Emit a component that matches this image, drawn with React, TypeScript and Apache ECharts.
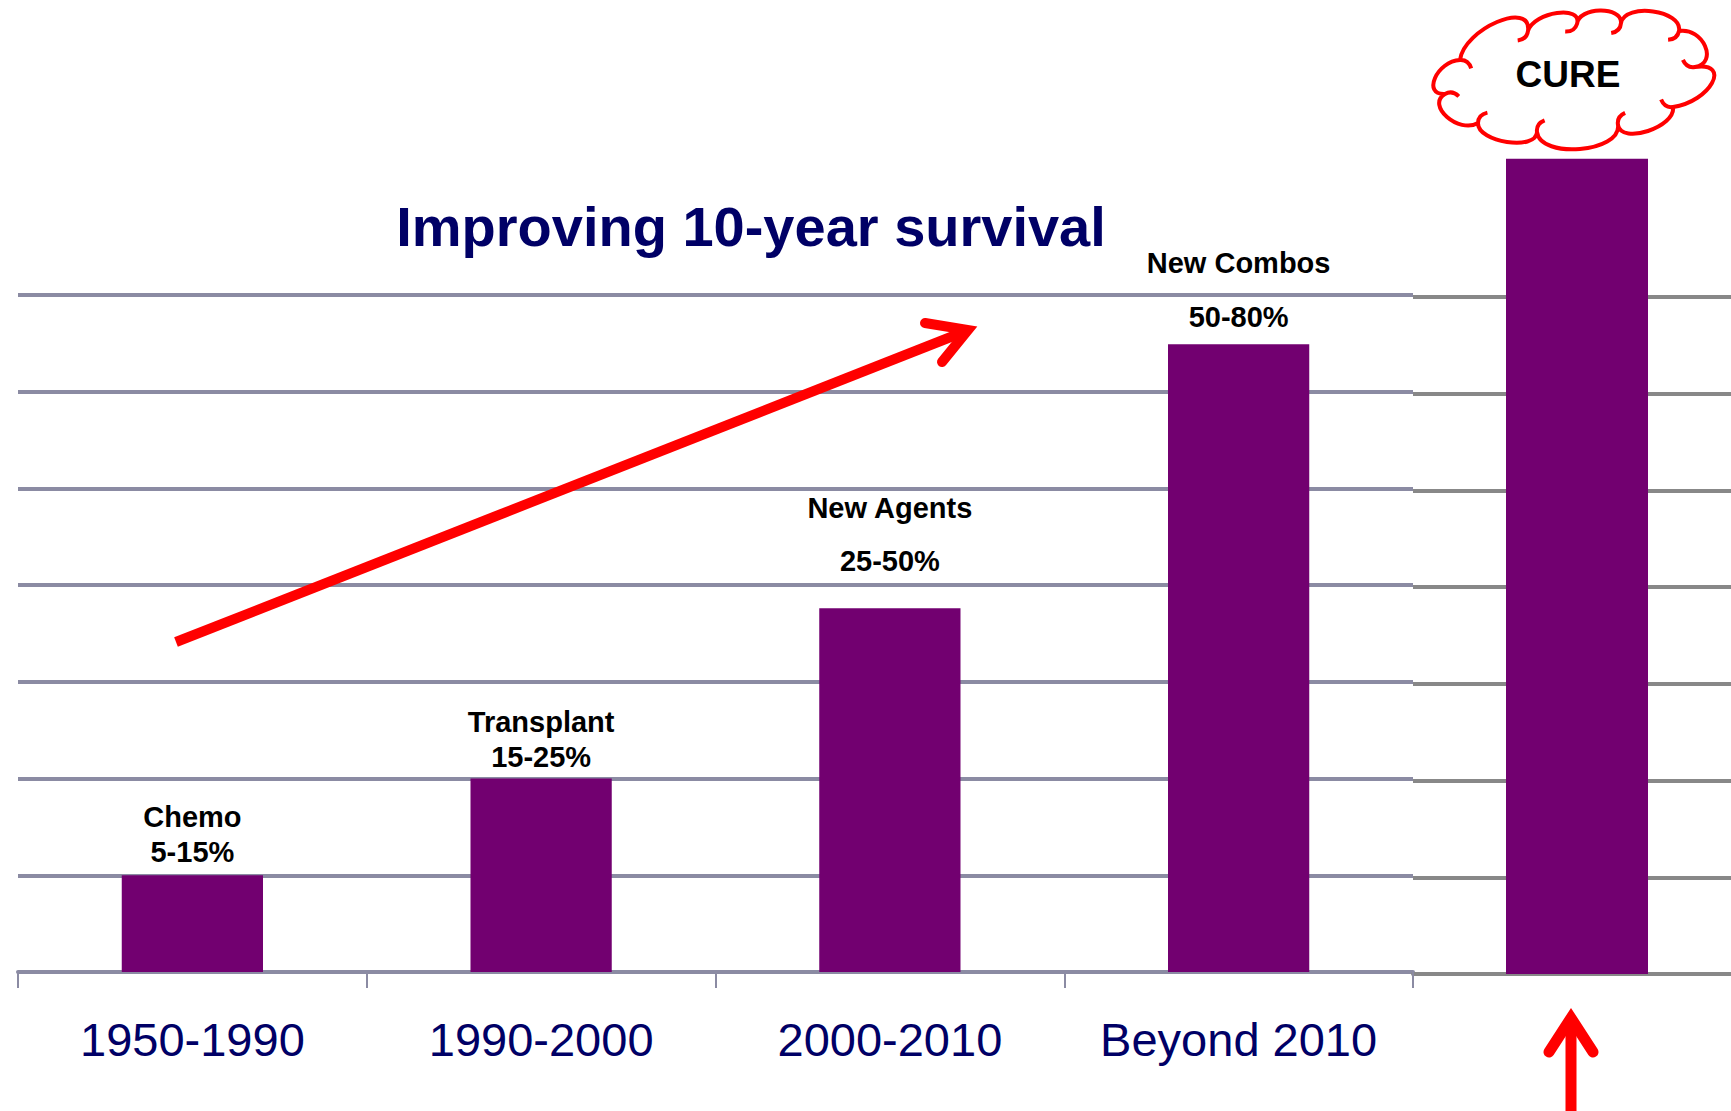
import React, { useEffect, useRef } from 'react';
import * as echarts from 'echarts';

// ---- data ----
const categories = ['1950-1990', '1990-2000', '2000-2010', 'Beyond 2010'];
const therapies = ['Chemo', 'Transplant', 'New Agents', 'New Combos'];
const survivalRanges = ['5-15%', '15-25%', '25-50%', '50-80%'];
const barValues = [1, 2, 3.76, 6.49];
const cureCategory = ['CURE'];
const cureValue = [8.43];
const yMin = 0;
const yMax = 7;
const yInterval = 1;
const titleText = 'Improving 10-year survival';

// ---- label layout (styles) ----
const labelDistances = [5.5, 4.5, 20.5, 0.5];
const labelLineHeights = [35, 35, 53, 54];

// ---- cloud outline (decoration) ----
const cloudJunctions = [
  [1460, 60], [1528, 31], [1577, 24], [1621, 23], [1679, 31], [1695, 67],
  [1673, 107], [1618, 125], [1537, 132], [1478, 123], [1445, 94],
];
const cloudExtremes = [
  [1497, 22], [1557, 13], [1600, 10.5], [1653, 11.5], [1705, 46], [1712, 83],
  [1648, 131], [1580, 149], [1507, 142], [1447, 117], [1435, 78],
];

function buildCloud(): string {
  const n = cloudJunctions.length;
  let d = `M${cloudJunctions[0][0]} ${cloudJunctions[0][1]}`;
  const hooks: string[] = [];
  for (let i = 0; i < n; i++) {
    const p0 = cloudJunctions[i];
    const p1 = cloudJunctions[(i + 1) % n];
    const e = cloudExtremes[i];
    const mx = (p0[0] + p1[0]) / 2;
    const my = (p0[1] + p1[1]) / 2;
    const kx = ((e[0] - mx) * 4) / 3;
    const ky = ((e[1] - my) * 4) / 3;
    d += ` C${(p0[0] + kx).toFixed(1)} ${(p0[1] + ky).toFixed(1)} ${(p1[0] + kx).toFixed(1)} ${(p1[1] + ky).toFixed(1)} ${p1[0]} ${p1[1]}`;
    const len = Math.hypot(kx, ky) || 1;
    const dx = -kx / len;
    const dy = -ky / len;
    const L = 14;
    const a = (40 * Math.PI) / 180;
    const rx = dx * Math.cos(a) - dy * Math.sin(a);
    const ry = dx * Math.sin(a) + dy * Math.cos(a);
    hooks.push(
      `M${p1[0]} ${p1[1]} Q${(p1[0] + dx * L * 0.6).toFixed(1)} ${(p1[1] + dy * L * 0.6).toFixed(1)} ${(p1[0] + rx * L).toFixed(1)} ${(p1[1] + ry * L).toFixed(1)}`
    );
  }
  return d + ' Z ' + hooks.join(' ');
}

echarts.graphic.registerShape('cloudShape', echarts.graphic.extendPath(buildCloud(), {}) as any);

const FONT = '"Liberation Sans", Arial, sans-serif';

export default function App() {
  const ref = useRef<HTMLDivElement>(null);
  useEffect(() => {
    if (!ref.current) return;
    const chart = echarts.init(ref.current, undefined, { renderer: 'svg' });
    const leftGridColor = '#8b8ba3';
    const rightGridColor = '#888888';
    const barColor = '#720070';
    const red = '#ff0000';

    const option: any = {
      animation: false,
      backgroundColor: '#ffffff',
      grid: [
        { left: 18, top: 295, width: 1395, bottom: 139, containLabel: false, outerBoundsMode: 'none' },
        { left: 1413, top: 297, width: 328, bottom: 137, containLabel: false, outerBoundsMode: 'none' },
      ],
      xAxis: [
        {
          type: 'category',
          gridIndex: 0,
          data: categories,
          axisLine: { show: true, lineStyle: { color: leftGridColor, width: 4 } },
          axisTick: { show: true, interval: 0, length: 16, lineStyle: { color: leftGridColor, width: 2 } },
          axisLabel: { interval: 0, color: '#000066', fontSize: 47, fontFamily: FONT, margin: 44 },
        },
        {
          type: 'category',
          gridIndex: 1,
          data: cureCategory,
          axisLine: { show: true, lineStyle: { color: rightGridColor, width: 4 } },
          axisTick: { show: false },
          axisLabel: { show: false },
        },
      ],
      yAxis: [
        {
          type: 'value',
          gridIndex: 0,
          min: yMin,
          max: yMax,
          interval: yInterval,
          axisLine: { show: false },
          axisTick: { show: false },
          axisLabel: { show: false },
          splitLine: { show: true, lineStyle: { color: leftGridColor, width: 4 } },
        },
        {
          type: 'value',
          gridIndex: 1,
          min: yMin,
          max: yMax,
          interval: yInterval,
          axisLine: { show: false },
          axisTick: { show: false },
          axisLabel: { show: false },
          splitLine: { show: true, lineStyle: { color: rightGridColor, width: 4 } },
        },
      ],
      series: [
        {
          type: 'bar',
          xAxisIndex: 0,
          yAxisIndex: 0,
          barWidth: '40.5%',
          itemStyle: { color: barColor },
          z: 3,
          data: barValues.map((v, i) => ({
            value: v,
            label: {
              show: true,
              position: 'top',
              distance: labelDistances[i],
              lineHeight: labelLineHeights[i],
              formatter: `${therapies[i]}\n${survivalRanges[i]}`,
              color: '#000000',
              fontWeight: 'bold',
              fontSize: 29,
              fontFamily: FONT,
            },
          })),
        },
        {
          type: 'bar',
          xAxisIndex: 1,
          yAxisIndex: 1,
          barWidth: 142,
          clip: false,
          itemStyle: { color: barColor },
          z: 3,
          data: cureValue,
        },
      ],
      graphic: [
        {
          type: 'text',
          z: 100,
          x: 751,
          y: 226,
          style: {
            text: titleText,
            fill: '#000066',
            font: `bold 56px ${FONT}`,
            textAlign: 'center',
            textVerticalAlign: 'middle',
          },
        },
        {
          type: 'line',
          z: 100,
          shape: { x1: 176, y1: 642, x2: 966, y2: 331 },
          style: { stroke: red, lineWidth: 10, lineCap: 'butt' },
        },
        {
          type: 'polyline',
          z: 100,
          shape: { points: [[925, 323], [968, 330], [942, 362]] },
          style: { stroke: red, lineWidth: 10, lineCap: 'round', lineJoin: 'miter', fill: 'none' },
        },
        {
          type: 'line',
          z: 100,
          shape: { x1: 1571, y1: 1020, x2: 1571, y2: 1115 },
          style: { stroke: red, lineWidth: 11, lineCap: 'butt' },
        },
        {
          type: 'polyline',
          z: 100,
          shape: { points: [[1549, 1052], [1571, 1018], [1593, 1052]] },
          style: { stroke: red, lineWidth: 11, lineCap: 'round', lineJoin: 'miter', fill: 'none' },
        },
        {
          type: 'cloudShape',
          z: 100,
          x: 0,
          y: 0,
          style: { fill: '#ffffff', stroke: red, lineWidth: 4 },
        },
        {
          type: 'text',
          z: 101,
          x: 1568,
          y: 74,
          style: {
            text: 'CURE',
            fill: '#000000',
            font: `bold 37px ${FONT}`,
            textAlign: 'center',
            textVerticalAlign: 'middle',
          },
        },
      ],
    };
    chart.setOption(option);
    return () => chart.dispose();
  }, []);

  return (
    <div
      ref={ref}
      style={{ position: 'fixed', left: 0, top: 0, width: 1731, height: 1111, background: '#fff' }}
    />
  );
}
